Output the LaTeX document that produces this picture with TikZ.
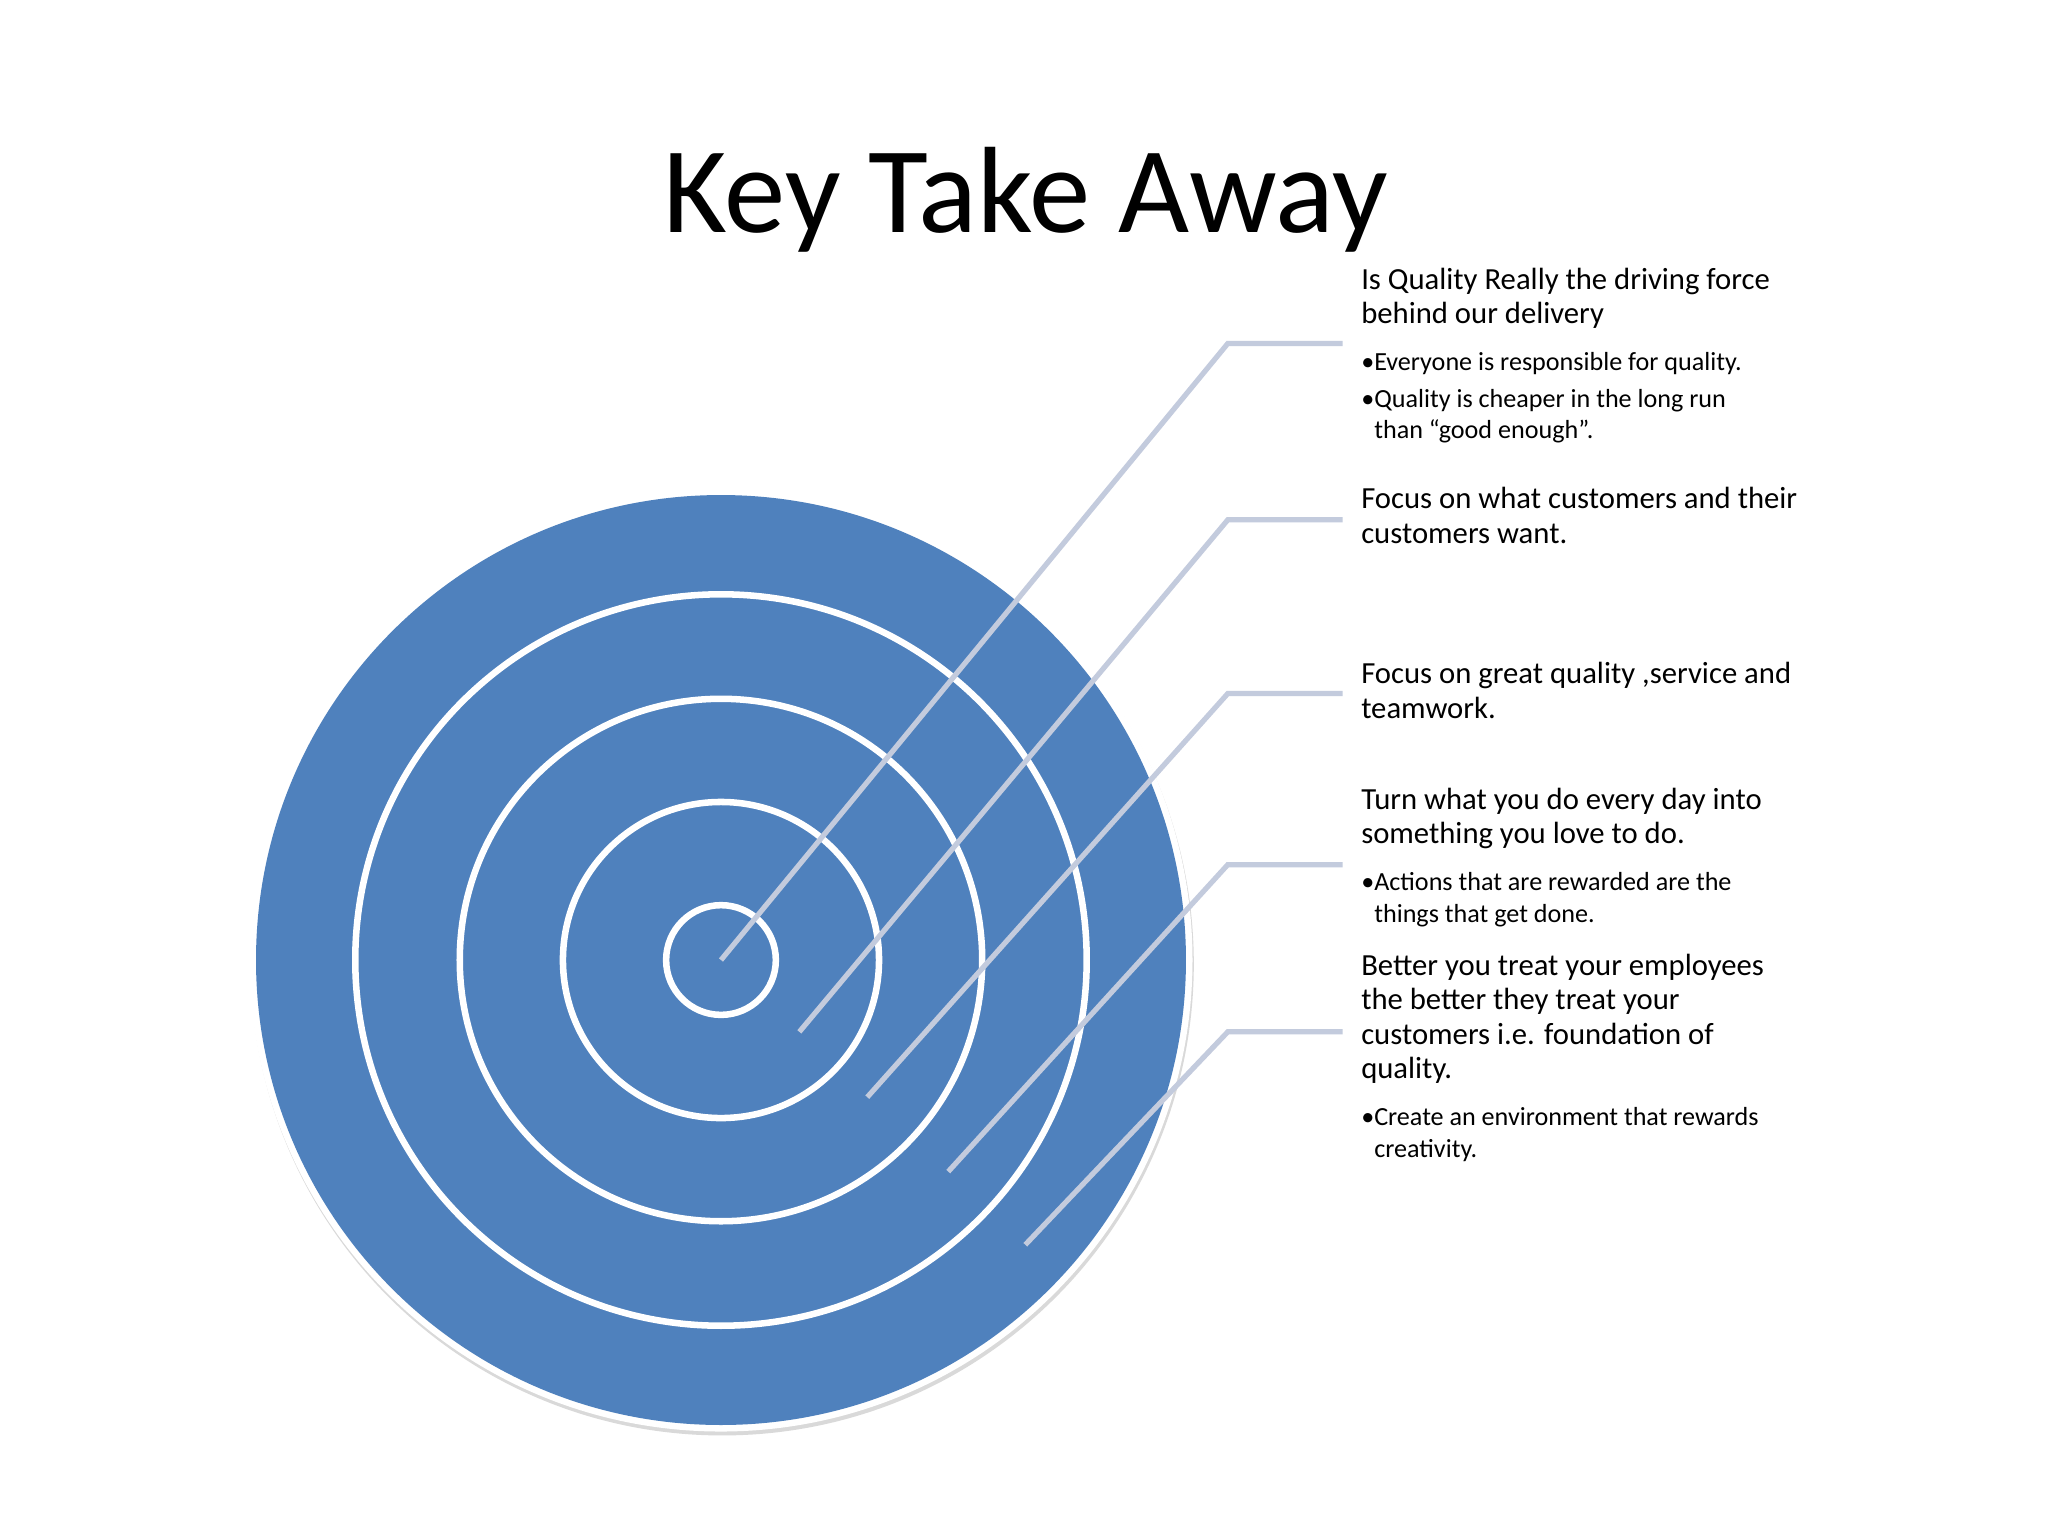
\documentclass[tikz,border=0pt]{standalone}
\usepackage{fontspec}
\setmainfont{Carlito}
\begin{document}
\begin{tikzpicture}[x=1pt,y=-1pt,
  ring/.style={draw=white,line width=5pt},
  head/.style={anchor=base west,align=left,font=\fontsize{23.5}{26.5}\selectfont,inner sep=0pt},
  bul/.style={anchor=base west,align=left,font=\fontsize{20}{24}\selectfont,inner sep=0pt}]
\definecolor{tblue}{HTML}{4F81BD}
\definecolor{leadc}{HTML}{C3CBDD}
\useasboundingbox (0,0) rectangle (1568,1176);
\fill[white] (0,0) rectangle (1568,1176);
\fill[black!15] (553,738) circle (361);
\fill[white] (552,735) circle (361);
\fill[tblue] (552,735) circle (356);
\foreach \r in {280,200,121,42} \draw[ring] (552,735) circle (\r);
\node[anchor=base,font=\fontsize{94}{104}\selectfont,inner sep=0pt] (title) at (785,178) {Key Take Away};
\coordinate (s1) at (552,735); \coordinate (b1) at (940,263); \coordinate (e1) at (1028,263);
\coordinate (s2) at (612,790); \coordinate (b2) at (940,398); \coordinate (e2) at (1028,398);
\coordinate (s3) at (664,840); \coordinate (b3) at (940,531); \coordinate (e3) at (1028,531);
\coordinate (s4) at (726,897); \coordinate (b4) at (940,662); \coordinate (e4) at (1028,662);
\coordinate (s5) at (785,953); \coordinate (b5) at (940,790); \coordinate (e5) at (1028,790);
\foreach \i in {1,...,5} \draw[draw=leadc,line width=4pt] (s\i) -- (b\i) -- (e\i);
\node[head] (t1) at (1042,248) {Is Quality Really the driving force\\behind our delivery};
\node[bul] (t1a) at (1042,284) {•Everyone is responsible for quality.};
\node[bul] (t1b) at (1042,336) {•Quality is cheaper in the long run\\\hspace*{10pt}than “good enough”.};
\node[head] (t2) at (1042,416) {Focus on what customers and their\\customers want.};
\node[head] (t3) at (1042,550) {Focus on great quality ,service and\\teamwork.};
\node[head] (t4) at (1042,646) {Turn what you do every day into\\something you love to do.};
\node[bul] (t4a) at (1042,706) {•Actions that are rewarded are the\\\hspace*{10pt}things that get done.};
\node[head] (t5) at (1042,826) {Better you treat your employees\\the better they treat your\\customers i.e. foundation of\\quality.};
\node[bul] (t5a) at (1042,886) {•Create an environment that rewards\\\hspace*{10pt}creativity.};
\end{tikzpicture}
\end{document}
